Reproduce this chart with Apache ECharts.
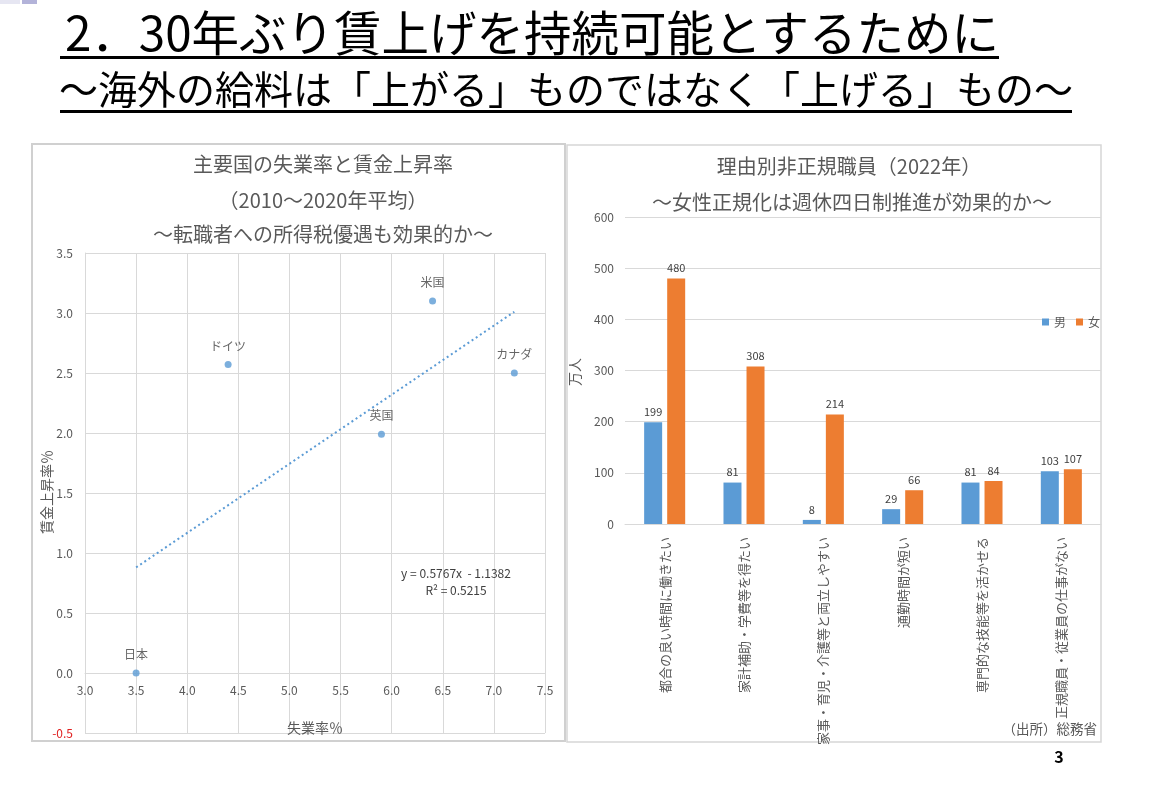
<!DOCTYPE html>
<html>
<head>
<meta charset="utf-8">
<script src="https://cdn.jsdelivr.net/npm/echarts@6/dist/echarts.min.js"></script>
<style>
  html, body { margin: 0; padding: 0; background: #fff; }
  #chart { width: 1168px; height: 799px; }
</style>
</head>
<body>
<div id="chart"></div>
<script>
// left chart: unemployment vs wage growth (2010-2020 avg)
var countries = ['日本', 'ドイツ', '英国', '米国', 'カナダ'];
var unemployment = [3.5, 4.4, 5.9, 6.4, 7.2];
var wageGrowth = [0.0, 2.57, 1.99, 3.1, 2.5];
// trend line end points
var trendX = [3.5, 7.2];
var trendY = [0.88, 3.01];
var xRange = [3.0, 7.5, 0.5];
var yRange = [-0.5, 3.5, 0.5];

// right chart: non-regular staff by reason (2022)
var reasons = ['都合の良い時間に働きたい', '家計補助・学費等を得たい', '家事・育児・介護等と両立しやすい',
               '通勤時間が短い', '専門的な技能等を活かせる', '正規職員・従業員の仕事がない'];
var male = [199, 81, 8, 29, 81, 103];
var female = [480, 308, 214, 66, 84, 107];
var barRange = [0, 600, 100];

var FONT = '"Noto Sans CJK JP", "Noto Sans", sans-serif';
var GRAY = '#595959';
var GRID_LINE = '#d9d9d9';
var BLUE = '#5b9bd5';
var ORANGE = '#ed7d31';

// scatter plot area, used to put the x axis on the y = 0 line
var sGrid = { left: 85, top: 253, width: 460, height: 480 };
var zeroOffset = -sGrid.height * (0 - yRange[0]) / (yRange[1] - yRange[0]);

function txt(x, y, s, size, color, opts) {
    opts = opts || {};
    return {
        type: 'text', x: x, y: y, rotation: opts.rotation || 0, z: 10,
        style: {
            text: s, fill: color, fontSize: size, fontFamily: FONT,
            fontWeight: opts.weight || 'normal',
            align: opts.align || 'center', verticalAlign: 'middle'
        }
    };
}

function line(x1, y1, x2, y2, color, w) {
    return { type: 'line', shape: { x1: x1, y1: y1, x2: x2, y2: y2 }, style: { stroke: color, lineWidth: w }, z: 10 };
}

var scatterData = [];
for (var i = 0; i < countries.length; i++) {
    scatterData.push({ name: countries[i], value: [unemployment[i], wageGrowth[i]] });
}
var trendData = [];
for (var j = 0; j < trendX.length; j++) {
    trendData.push([trendX[j], trendY[j]]);
}

var graphics = [
    // slide corner mark
    { type: 'rect', shape: { x: 0, y: 0, width: 20, height: 4 }, style: { fill: '#e6e6f2' } },
    { type: 'rect', shape: { x: 22, y: 0, width: 15, height: 4 }, style: { fill: '#b3b3d9' } },
    // headings
    txt(65, 33, '2．30年ぶり賃上げを持続可能とするために', 47.5, '#000', { align: 'left' }),
    line(60, 57.5, 999, 57.5, '#000', 3),
    txt(59, 89, '～海外の給料は「上がる」ものではなく「上げる」もの～', 39, '#000', { align: 'left' }),
    line(60, 111.5, 1072, 111.5, '#000', 3),
    // panel frames
    { type: 'rect', shape: { x: 32, y: 144, width: 533, height: 597 }, style: { fill: 'none', stroke: '#d0d0d0', lineWidth: 2 } },
    { type: 'rect', shape: { x: 567, y: 145, width: 534, height: 597 }, style: { fill: 'none', stroke: '#d6d6d6', lineWidth: 1.5 } },
    // left chart titles
    txt(323, 164, '主要国の失業率と賃金上昇率', 20, GRAY),
    txt(323, 200, '（2010～2020年平均）', 20, GRAY),
    txt(323, 234, '～転職者への所得税優遇も効果的か～', 20, GRAY),
    txt(47, 492, '賃金上昇率％', 14, GRAY, { rotation: Math.PI / 2 }),
    txt(315, 728, '失業率％', 14, GRAY),
    txt(456, 573, 'y = 0.5767x  - 1.1382', 12, '#404040'),
    txt(456, 590, 'R² = 0.5215', 12, '#404040'),
    // right chart titles
    txt(849, 166, '理由別非正規職員（2022年）', 20, GRAY),
    txt(852, 202, '～女性正規化は週休四日制推進が効果的か～', 20, GRAY),
    txt(575, 372, '万人', 14, GRAY, { rotation: Math.PI / 2 }),
    txt(1097, 729, '（出所）総務省', 13.5, GRAY, { align: 'right' }),
    // page number
    txt(1059, 757, '3', 16, '#000', { weight: 'bold' })
];

var chart = echarts.init(document.getElementById('chart'));

var option = {
    backgroundColor: '#fff',
    animation: false,
    textStyle: { fontFamily: FONT },
    graphic: graphics,
    legend: {
        data: ['男', '女'], left: 1042, top: 316, padding: 0,
        icon: 'rect', itemWidth: 7, itemHeight: 7, itemGap: 10,
        textStyle: { fontSize: 12, color: GRAY, fontFamily: FONT }
    },
    grid: [
        { left: sGrid.left, top: sGrid.top, width: sGrid.width, height: sGrid.height, outerBoundsMode: 'none' },
        { left: 625, top: 217, width: 476, height: 307, outerBoundsMode: 'none' }
    ],
    xAxis: [
        {
            gridIndex: 0, type: 'value', min: xRange[0], max: xRange[1], interval: xRange[2],
            position: 'bottom', offset: zeroOffset,
            axisLine: { show: true, onZero: false, lineStyle: { color: GRID_LINE } },
            axisTick: { show: false },
            axisLabel: { color: GRAY, fontSize: 12, margin: 11, formatter: function (v) { return v.toFixed(1); } },
            splitLine: { show: true, lineStyle: { color: GRID_LINE } }
        },
        {
            gridIndex: 1, type: 'category', data: reasons,
            axisLine: { show: true, lineStyle: { color: GRID_LINE } },
            axisTick: { show: false },
            axisLabel: { interval: 0, rotate: 90, color: GRAY, fontSize: 13, margin: 13 },
            splitLine: { show: false }
        }
    ],
    yAxis: [
        {
            gridIndex: 0, type: 'value', min: yRange[0], max: yRange[1], interval: yRange[2],
            axisLine: { show: true, onZero: false, lineStyle: { color: GRID_LINE } },
            axisTick: { show: false },
            axisLabel: {
                color: GRAY, fontSize: 12, margin: 12,
                formatter: function (v) {
                    return v < 0 ? '{neg|' + v.toFixed(1) + '}' : v.toFixed(1);
                },
                rich: { neg: { color: '#e02020', fontSize: 12, fontFamily: FONT } }
            },
            splitLine: { show: true, lineStyle: { color: GRID_LINE } }
        },
        {
            gridIndex: 1, type: 'value', min: barRange[0], max: barRange[1], interval: barRange[2],
            axisLine: { show: false },
            axisTick: { show: false },
            axisLabel: { color: GRAY, fontSize: 12, margin: 11 },
            splitLine: { show: true, lineStyle: { color: GRID_LINE } }
        }
    ],
    series: [
        {
            type: 'line', xAxisIndex: 0, yAxisIndex: 0, data: trendData,
            symbol: 'none', silent: true,
            lineStyle: { color: BLUE, width: 2, type: [2, 3] }
        },
        {
            type: 'scatter', xAxisIndex: 0, yAxisIndex: 0, data: scatterData,
            symbolSize: 7, itemStyle: { color: BLUE },
            label: {
                show: true, position: 'top', distance: 9,
                formatter: function (p) { return p.name; },
                color: '#404040', fontSize: 12, fontFamily: FONT
            }
        },
        {
            name: '男', type: 'bar', xAxisIndex: 1, yAxisIndex: 1, data: male,
            barWidth: 18, barGap: '28%', itemStyle: { color: BLUE },
            label: { show: true, position: 'top', distance: 5, color: '#404040', fontSize: 11 }
        },
        {
            name: '女', type: 'bar', xAxisIndex: 1, yAxisIndex: 1, data: female,
            barWidth: 18, barGap: '28%', itemStyle: { color: ORANGE },
            label: { show: true, position: 'top', distance: 5, color: '#404040', fontSize: 11 }
        }
    ]
};

chart.setOption(option);
</script>
</body>
</html>
